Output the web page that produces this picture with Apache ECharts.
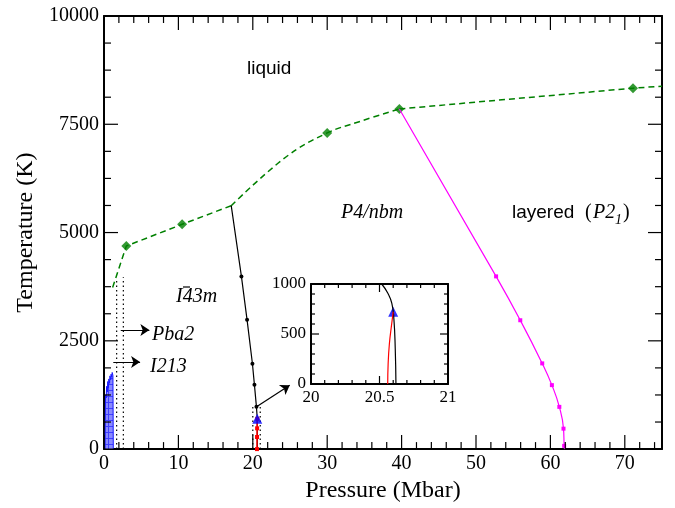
<!DOCTYPE html>
<html>
<head>
<meta charset="utf-8">
<script src="https://cdn.jsdelivr.net/npm/echarts@6/dist/echarts.min.js"></script>
<style>
  html, body { margin: 0; background: #fff; }
  #main { width: 675px; height: 508px; }
</style>
</head>
<body>
<div id="main"></div>
<script>
// melting line (dashed green) and the computed points on it
var liquidLowP = [1.16, 3.0, 10.5, 17.1];
var liquidLowT = [3730, 4690, 5190, 5620];
var liquidMidP = [17.1, 24.5, 30.0, 34.3, 39.7];
var liquidMidT = [5620, 6750, 7300, 7560, 7854];
var liquidHighP = [39.7, 71.1, 75.0];
var liquidHighT = [7854, 8333, 8380];
var meltP = [3.0, 10.5, 30.0, 39.7, 71.1];
var meltT = [4690, 5190, 7300, 7854, 8333];

// I-43m / P4/nbm boundary (black)
var blackP = [17.1, 18.47, 19.23, 19.95, 20.22, 20.49, 20.6, 20.62];
var blackT = [5620, 3988, 2984, 1970, 1484, 975, 700, 0];

// P4/nbm / layered boundary (magenta)
var pinkP = [39.7, 52.7, 55.95, 58.9, 60.2, 61.2, 61.76, 61.85, 61.9];
var pinkT = [7854, 3988, 2975, 1979, 1477, 975, 472, 75, 0];

// red boundary ending at the triple point
var redP = [20.56, 20.57, 20.58, 20.6];
var redT = [0, 280, 480, 700];
var tripleP = [20.6];
var tripleT = [700];

// low-pressure blue region
var blueP = [0.15, 0.2, 0.3, 0.35, 0.45, 0.5, 0.6, 0.65, 0.75, 0.8, 0.9, 0.95, 1.05, 1.1, 1.2, 1.25];
var blueT = [0, 1250, 1180, 1450, 1320, 1560, 1420, 1620, 1520, 1690, 1600, 1730, 1660, 1770, 1700, 0];

// dotted guide lines [p, tTop]
var dotLines = [[1.7, 3880], [2.6, 3970], [20.0, 1000], [21.0, 1000]];

// arrows [[p1, t1], [p2, t2]]
var arrows = [
  [[2.25, 2750], [6.1, 2750]],
  [[1.25, 2010], [4.85, 2010]],
  [[20.4, 966], [24.96, 1477]]
];

// inset curves
var insetBlackP = [20.516, 20.56, 20.59, 20.605, 20.615, 20.62];
var insetBlackT = [1000, 910, 807, 650, 350, 0];
var insetRedP = [20.56, 20.563, 20.572, 20.587, 20.6];
var insetRedT = [0, 200, 400, 580, 723];

// axis ranges
var mainXRange = [0, 75], mainYRange = [0, 10000];
var insetXRange = [20, 21], insetYRange = [0, 1000];

function pairs(xs, ys) {
  return xs.map(function (x, i) { return [x, ys[i]]; });
}

var serif = '"Liberation Serif", "Times New Roman", serif';
var sans = '"Liberation Sans", Arial, sans-serif';

function makeAxis(grid, range, interval, pos, opts) {
  return {
    type: 'value', gridIndex: grid, min: range[0], max: range[1], interval: interval, position: pos,
    axisLine: { show: true, onZero: false, lineStyle: { color: '#000', width: 2 } },
    axisTick: { show: false },
    minorTick: { show: false },
    axisLabel: {
      show: !!opts, fontFamily: serif, fontSize: opts ? opts.font : 12, color: '#000',
      margin: 5, showMaxLabel: opts ? opts.showMax : false,
      formatter: function (v) { return String(v); }
    },
    splitLine: { show: false }
  };
}

// blue hatch pattern
var pat = document.createElement('canvas');
pat.width = 6; pat.height = 6;
var pc = pat.getContext('2d');
pc.fillStyle = '#8a8aff'; pc.fillRect(0, 0, 6, 6);
pc.fillStyle = '#4040ff'; pc.fillRect(0, 0, 6, 1); pc.fillRect(0, 0, 1, 6);

var chart = echarts.init(document.getElementById('main'));

var mainX = makeAxis(0, mainXRange, 10, 'bottom', { font: 20, showMax: false });
mainX.name = 'Pressure (Mbar)';
mainX.nameLocation = 'middle';
mainX.nameGap = 26;
mainX.nameTextStyle = { fontFamily: serif, fontSize: 24, color: '#000' };
var mainY = makeAxis(0, mainYRange, 2500, 'left', { font: 20, showMax: true });
mainY.name = 'Temperature (K)';
mainY.nameLocation = 'middle';
mainY.nameGap = 55;
mainY.nameTextStyle = { fontFamily: serif, fontSize: 24, color: '#000' };

var dash = { color: '#008000', width: 1.5, type: [6, 4] };
var series = [
  {
    type: 'line', data: pairs(blueP, blueT), symbol: 'none', z: 1,
    lineStyle: { color: '#1a1aff', width: 1 },
    areaStyle: { color: { image: pat, repeat: 'repeat' }, opacity: 1 }
  },
  { type: 'line', data: pairs(liquidLowP, liquidLowT), symbol: 'none', lineStyle: dash },
  { type: 'line', data: pairs(liquidMidP, liquidMidT), symbol: 'none', smooth: 0.4, lineStyle: dash },
  { type: 'line', data: pairs(liquidHighP, liquidHighT), symbol: 'none', lineStyle: dash },
  {
    type: 'scatter', data: pairs(meltP, meltT), symbol: 'diamond', symbolSize: 10,
    itemStyle: { color: '#008000' }
  },
  {
    type: 'line', data: pairs(blackP, blackT).map(function (d, i, a) {
      return (i === 0 || i >= a.length - 2) ? { value: d, symbol: 'none' } : d;
    }),
    symbol: 'circle', symbolSize: 4, showAllSymbol: true,
    lineStyle: { color: '#000', width: 1.2 }, itemStyle: { color: '#000' }
  },
  {
    type: 'line', data: pairs(pinkP, pinkT).map(function (d, i, a) {
      return (i === 0 || i === a.length - 1) ? { value: d, symbol: 'none' } : d;
    }),
    smooth: 0.5, symbol: 'rect', symbolSize: 4, showAllSymbol: true,
    lineStyle: { color: '#ff00ff', width: 1.2 }, itemStyle: { color: '#ff00ff' }
  },
  {
    type: 'line', data: pairs(redP, redT), symbol: 'rect', symbolSize: 4,
    lineStyle: { color: '#ff0000', width: 1.5 }, itemStyle: { color: '#ff0000' }
  },
  {
    type: 'scatter', data: pairs(tripleP, tripleT), symbol: 'triangle', symbolSize: 10, z: 5,
    itemStyle: { color: '#0000ff' }
  },
  {
    type: 'lines', coordinateSystem: 'cartesian2d', xAxisIndex: 0, yAxisIndex: 0,
    symbol: ['none', 'arrow'], symbolSize: 9,
    lineStyle: { color: '#000', width: 1.2, opacity: 1 },
    data: arrows.map(function (a) { return { coords: a }; })
  },
  // inset
  {
    type: 'line', xAxisIndex: 1, yAxisIndex: 1, data: pairs(insetBlackP, insetBlackT), symbol: 'none', smooth: 0.5,
    lineStyle: { color: '#000', width: 1.2 }
  },
  {
    type: 'line', xAxisIndex: 1, yAxisIndex: 1, data: pairs(insetRedP, insetRedT), symbol: 'none', smooth: 0.5,
    lineStyle: { color: '#ff0000', width: 1.2 }
  },
  {
    type: 'scatter', xAxisIndex: 1, yAxisIndex: 1, data: [[20.6, 723]], symbol: 'triangle', symbolSize: 10,
    itemStyle: { color: '#0000ff' }
  }
];

dotLines.forEach(function (d) {
  series.push({
    type: 'line', data: [[d[0], 0], [d[0], d[1]]], symbol: 'none',
    lineStyle: { color: '#000', width: 1.2, type: [1.5, 3] }
  });
});

chart.setOption({
  animation: false,
  grid: [
    { left: 104, right: 13, top: 16, bottom: 53 },
    { left: 311, width: 137, top: 284, height: 100 }
  ],
  xAxis: [
    mainX,
    makeAxis(1, insetXRange, 0.5, 'bottom', { font: 17, showMax: true }),
    makeAxis(0, mainXRange, 10, 'top', null),
    makeAxis(1, insetXRange, 0.5, 'top', null)
  ],
  yAxis: [
    mainY,
    makeAxis(1, insetYRange, 500, 'left', { font: 17, showMax: true }),
    makeAxis(0, mainYRange, 2500, 'right', null),
    makeAxis(1, insetYRange, 500, 'right', null)
  ],
  series: series
});

// inward frame ticks on all four sides, placed through the axes' own scales
function frameTicks(ai, xr, yr, xLast, xStep, xEvery, yStep, yEvery, major, minor) {
  var f = { xAxisIndex: ai, yAxisIndex: ai };
  var out = [];
  function seg(p, dx, dy, len) {
    out.push({
      type: 'line', z: 100,
      shape: { x1: p[0], y1: p[1], x2: p[0] + dx * len, y2: p[1] + dy * len },
      style: { stroke: '#000', lineWidth: 1.2 }
    });
  }
  var nx = Math.round((xLast - xr[0]) / xStep);
  for (var i = 0; i <= nx; i++) {
    var x = xr[0] + i * xStep, len = i % xEvery === 0 ? major : minor;
    seg(chart.convertToPixel(f, [x, yr[0]]), 0, -1, len);
    seg(chart.convertToPixel(f, [x, yr[1]]), 0, 1, len);
  }
  var ny = Math.round((yr[1] - yr[0]) / yStep);
  for (var j = 0; j <= ny; j++) {
    var y = yr[0] + j * yStep, leny = j % yEvery === 0 ? major : minor;
    seg(chart.convertToPixel(f, [xr[0], y]), 1, 0, leny);
    seg(chart.convertToPixel(f, [xr[1], y]), -1, 0, leny);
  }
  return out;
}

function txt(x, y, text, font) {
  return {
    type: 'text', x: x, y: y, z: 100,
    style: { text: text, font: font, fill: '#000', textAlign: 'left', textVerticalAlign: 'middle', align: 'left', verticalAlign: 'middle' }
  };
}
var it = 'italic 20px ' + serif;

var graphics = [
  txt(247, 69, 'liquid', '19px ' + sans),
  txt(341, 213, 'P4/nbm', it),
  txt(512, 213, 'layered', '19px ' + sans),
  txt(585, 213, '(', '20px ' + serif),
  txt(593, 213, 'P2', it),
  txt(615, 220, '1', 'italic 14px ' + serif),
  txt(623, 213, ')', '20px ' + serif),
  txt(176, 297, 'I43m', it),
  { type: 'line', z: 100, shape: { x1: 183, y1: 287, x2: 190, y2: 287 }, style: { stroke: '#000', lineWidth: 1.2 } },
  txt(152, 335, 'Pba2', it),
  txt(150, 367, 'I213', it)
]
  .concat(frameTicks(0, mainXRange, mainYRange, 74, 2, 5, 625, 4, 14, 7))
  .concat(frameTicks(1, insetXRange, insetYRange, 21, 0.1, 5, 100, 5, 8, 4));

chart.setOption({ graphic: graphics });
</script>
</body>
</html>
